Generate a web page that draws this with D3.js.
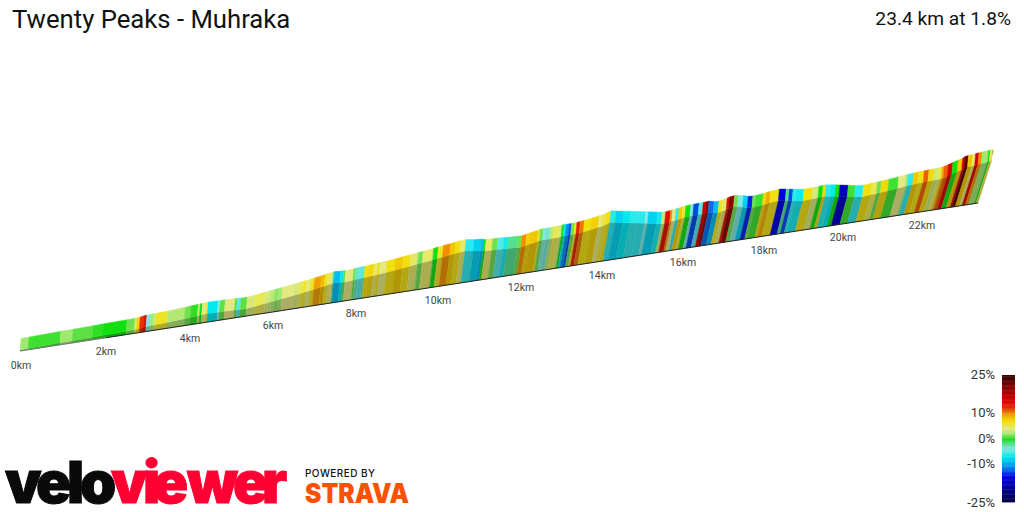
<!DOCTYPE html>
<html><head><meta charset="utf-8">
<script src="https://cdn.jsdelivr.net/npm/d3@7"></script>
<style>html,body{margin:0;padding:0;background:#fff}svg{display:block}text{font-family:Roboto,sans-serif}</style>
</head><body><div id="c"></div>
<script>
const titleText = "Twenty Peaks - Muhraka";
const summaryText = "23.4 km at 1.8%";
const startElev = 10;
const segEndKm = [0.19,0.93,1.21,1.68,1.92,2.48,2.67,2.71,2.79,2.88,2.95,3.05,3.12,3.17,3.45,3.86,4.0,4.17,4.22,4.27,4.34,4.41,4.65,4.7,4.82,5.06,5.11,5.2,5.35,5.54,5.78,5.86,5.93,6.02,6.09,6.19,6.47,6.59,6.69,6.76,6.85,6.95,7.11,7.2,7.27,7.34,7.39,7.42,7.57,7.64,7.69,7.88,7.93,8.0,8.1,8.15,8.24,8.37,8.46,8.51,8.68,8.88,9.07,9.24,9.41,9.44,9.54,9.56,9.78,9.8,9.9,10.02,10.19,10.31,10.43,10.55,10.75,10.92,10.99,11.04,11.2,11.32,11.47,11.57,11.81,11.9,12.01,12.09,12.29,12.33,12.41,12.48,12.58,12.66,12.79,12.86,12.91,12.96,13.04,13.09,13.17,13.22,13.3,13.4,13.57,13.75,13.83,13.93,14.02,14.15,14.35,14.52,14.72,14.9,14.97,15.2,15.32,15.4,15.52,15.57,15.65,15.72,15.81,15.88,16.0,16.07,16.2,16.3,16.37,16.44,16.57,16.69,16.78,16.88,16.93,17.05,17.15,17.28,17.4,17.52,17.59,17.77,17.84,17.94,18.15,18.33,18.41,18.51,18.58,18.79,19.01,19.16,19.27,19.34,19.47,19.59,19.7,19.92,20.11,20.32,20.53,20.66,20.76,20.94,21.18,21.36,21.41,21.54,21.67,21.8,21.92,22.05,22.15,22.24,22.29,22.38,22.48,22.6,22.7,22.75,22.83,22.93,23.0,23.08,23.16,23.31,23.35,23.4];
const segElev = [12,20,22,27,29,34,37,38,41,47,50,51,52,53,59,70,74,79,80,82,84,87,84,83,82,79,78,76,75,84,97,101,105,110,114,119,135,142,148,152,158,164,175,182,187,192,196,197,193,191,190,196,198,200,204,205,209,212,215,218,223,232,242,251,260,261,265,267,279,280,287,293,302,309,315,320,306,300,290,289,286,284,280,277,272,270,280,288,303,308,310,310,310,312,314,316,318,318,318,318,320,322,325,330,340,355,360,370,386,377,362,350,335,323,318,300,292,292,297,300,305,308,317,320,324,325,328,327,330,332,320,315,325,335,342,350,346,335,320,315,318,325,330,338,346,335,330,322,318,306,310,313,314,316,308,300,292,276,263,252,260,263,266,274,285,293,295,300,303,306,309,311,313,316,320,332,348,363,376,390,396,400,404,407,411,417,419,420];
const segGrade = [2,0.5,2,0.8,0.3,0,1,3.5,7,12,14,-4,2,3,6,2.5,1,0.3,3,0,4,5,-7,-4,0.8,4,0.8,-5,0.8,3.5,5,3.5,3,2.5,1.5,2,4,3.5,5,6,4,6,9.5,8.5,6,5,4,-2,-9,-7,0.8,4,1,-3,-5,-3,6.5,7,4.5,7,4,6.5,8,6.5,4.5,2,1,3,4.5,1,0,6,10,8,6.5,4.5,-6,-8,-9,0,4.5,1,-5,-6.5,-2,1,10,7.5,8,6,1,-4,-3.5,2.5,5,3.5,0,-7,-11,-13,1,6,13,10.5,6.5,7.5,4,5.5,6.5,-6,-8,-7,-6,-6,-4,-8,-6.5,3,14,10,4,-6,8,5.5,0,-4,-13,-5,16,20,-12,-9,6,4.5,14,20,1,-4,-8,-14,1,0.5,7,9,6.5,-15,-2,-13,-6,-6.5,6.5,3.5,0,7,-6,-7,0,-17,0.5,-6,6.5,5,1,7,0.5,4,2,-6,8,6.5,11,7,3,5,9,11,15,0,8,15,23,8,4.5,15,10,2,0,5];

const tickKm = [0,2,4,6,8,10,12,14,16,18,20,22];
const tickLabels = tickKm.map(k => k + "km");
const legendGrades = [25,10,0,-10,-25];
const gradeStops = [-25,-20,-15,-11,-7,-4,-2,0,1,2,3,4,5,6.5,8,10,12,15,20,25];
const gradeColors = ["#00003c","#000090","#0000e0","#0090f0","#00e8f0","#80e8e0","#50e090","#10e010","#70e050","#a0e870","#c8e878","#e4e880","#e8e850","#f0e010","#f0c800","#f09000","#e83000","#d80000","#900000","#300000"];
const baseKm = [0,2,4,6,8,10,12,14,16,18,20,22,23.4];
const basePx = [20,106,190,273,356,438,521,602,683,764,843,922,978];

const W = 1024, H = 512;
const svg = d3.select("#c").append("svg").attr("width",W).attr("height",H);
const color = d3.scaleLinear().domain(gradeStops).range(gradeColors).clamp(true);
const xKm = d3.scaleLinear().domain(baseKm).range(basePx);
const yBase = d3.scaleLinear().domain([20,978]).range([351,203]);
const hPx = d3.scaleLinear().domain([0,420]).range([0,42]);
const lean = d3.scaleLinear().domain([100,980]).range([0,0.32]);
const depth = 11.5;
function front(km, elev){
  const bx = xKm(km), h = hPx(elev);
  return [bx + lean(bx)*h, yBase(bx) - h];
}
const baseAt = km => [xKm(km), yBase(xKm(km))];
const poly = pts => pts.map(p=>p[0].toFixed(2)+","+p[1].toFixed(2)).join(" ");
const dark = c => { const r=d3.rgb(c); return d3.rgb(r.r*.72+6,r.g*.72+6,r.b*.72+6).formatHex(); };

const segs = segEndKm.map((k,i)=>({k0:i?segEndKm[i-1]:0,k1:k,e0:i?segElev[i-1]:startElev,e1:segElev[i],g:segGrade[i]}));

// wall
svg.append("g").selectAll("polygon").data(segs).join("polygon")
  .attr("points",d=>poly([baseAt(d.k0),baseAt(d.k1),front(d.k1,d.e1),front(d.k0,d.e0)]))
  .attr("fill",d=>dark(color(d.g))).attr("stroke",d=>dark(color(d.g))).attr("stroke-width",.4);
// top
svg.append("g").selectAll("polygon").data(segs).join("polygon")
  .attr("points",d=>{const a=front(d.k0,d.e0),b=front(d.k1,d.e1);
    return poly([a,b,[b[0]+1,b[1]-depth],[a[0]+1,a[1]-depth]]);})
  .attr("fill",d=>color(d.g)).attr("stroke",d=>color(d.g)).attr("stroke-width",.4);
// end face
const last = segs[segs.length-1], lf = front(last.k1,last.e1);
svg.append("polygon").attr("points",poly([baseAt(last.k1),lf,[lf[0]+1,lf[1]-depth],[lf[0]+2.5,lf[1]-depth+1]]))
  .attr("fill","#b8b030");
// base line
svg.append("line").attr("x1",xKm(0)).attr("y1",yBase(xKm(0))).attr("x2",xKm(2)).attr("y2",yBase(xKm(2))).attr("stroke","#777").attr("stroke-width",1);
svg.append("line").attr("x1",xKm(2)).attr("y1",yBase(xKm(2))).attr("x2",xKm(23.4)).attr("y2",yBase(xKm(23.4))).attr("stroke","#222").attr("stroke-width",1);

// km labels
svg.append("g").selectAll("text").data(tickKm).join("text")
  .attr("x",k=>xKm(k)+(k==0?1:0)).attr("y",k=>yBase(xKm(k))+17.5)
  .attr("text-anchor","middle").attr("font-size",10.5).attr("fill","#444")
  .text((k,i)=>tickLabels[i]);

// title
svg.append("text").attr("x",12).attr("y",28).attr("font-size",25.7).attr("fill","#111").text(titleText);
svg.append("text").attr("x",1011).attr("y",25).attr("text-anchor","end").attr("font-size",19.2).attr("fill","#111").text(summaryText);

// legend
const yLeg = d3.scaleLinear().domain([-25,25]).range([502,375]);
svg.append("g").selectAll("rect").data(d3.range(-25,25,0.5)).join("rect")
  .attr("x",1002).attr("width",13).attr("y",g=>yLeg(g+0.5)).attr("height",g=>yLeg(g)-yLeg(g+0.5)+.4)
  .attr("fill",g=>color(g+.25));
svg.append("g").selectAll("text").data(legendGrades).join("text")
  .attr("x",995).attr("y",g=>yLeg(g)+(g==-25?5:4)).attr("text-anchor","end")
  .attr("font-size",13).attr("fill","#333").text(g=>g+"%");

// logos
const velo = svg.append("text").attr("y",503).attr("font-size",58).attr("font-weight",900)
  .attr("fill","#0a0a0a").attr("stroke","#0a0a0a").attr("stroke-width",1).style("font-family","Inter").text("velo");
velo.attr("x","5 36 67 80");
const viewer = svg.append("text").attr("y",503).attr("font-size",58).attr("font-weight",900)
  .attr("fill","#ff0033").attr("stroke","#ff0033").attr("stroke-width",1).style("font-family","Inter").text("viewer");
viewer.attr("x","111 143 153 187 233 262");
svg.append("text").attr("x",305).attr("y",477).attr("font-size",10).attr("font-weight",500).attr("textLength",70).attr("fill","#111").style("font-family","Inter").text("POWERED BY");
svg.append("text").attr("x",305).attr("y",503).attr("font-size",26.5).attr("font-weight",900).attr("textLength",104).attr("lengthAdjust","spacingAndGlyphs").attr("fill","#fc5200").style("font-family","Inter").text("STRAVA");
</script></body></html>
